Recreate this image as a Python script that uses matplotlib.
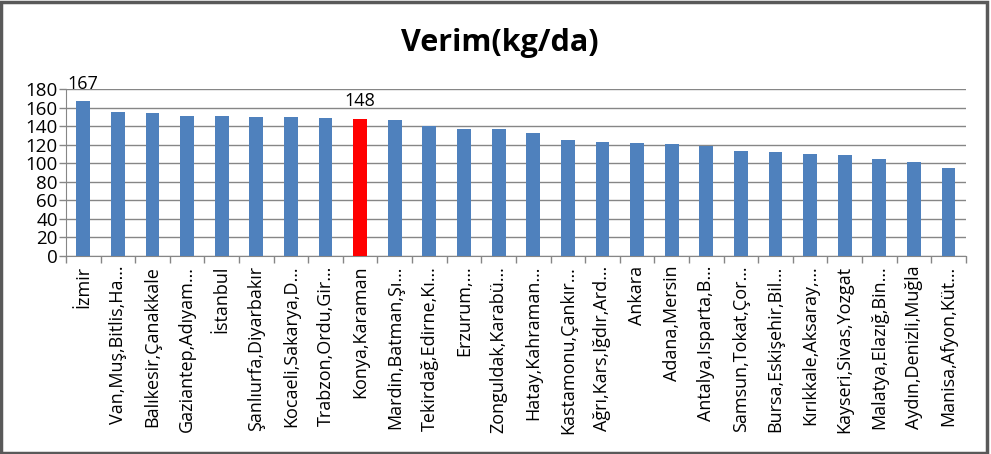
import matplotlib
matplotlib.use("Agg")
import matplotlib.pyplot as plt
from matplotlib.patches import Rectangle
import numpy as np

plt.rcParams['font.family'] = ['Open Sans', 'DejaVu Sans']

regions = ["İzmir", "Van,Muş,Bitlis,Ha…", "Balıkesir,Çanakkale", "Gaziantep,Adıyam…",
           "İstanbul", "Şanlıurfa,Diyarbakır", "Kocaeli,Sakarya,D…", "Trabzon,Ordu,Gir…",
           "Konya,Karaman", "Mardin,Batman,Şı…", "Tekirdağ,Edirne,Kı…", "Erzurum,…",
           "Zonguldak,Karabü…", "Hatay,Kahraman…", "Kastamonu,Çankır…", "Ağrı,Kars,Iğdır,Ard…",
           "Ankara", "Adana,Mersin", "Antalya,Isparta,B…", "Samsun,Tokat,Çor…",
           "Bursa,Eskişehir,Bil…", "Kırıkkale,Aksaray,…", "Kayseri,Sivas,Yozgat",
           "Malatya,Elazığ,Bin…", "Aydın,Denizli,Muğla", "Manisa,Afyon,Küt…"]
verim = [167, 155, 154, 151, 151, 150, 150, 149, 148, 146, 140, 137, 137, 133,
         125, 123, 122, 121, 119, 113, 112, 110, 109, 104, 101, 95]
highlight = "Konya,Karaman"
labelled = ["İzmir", "Konya,Karaman"]

fig = plt.figure(figsize=(9.91, 4.54), dpi=100)
ax = fig.add_axes([0.0666, 0.4361, 0.908, 0.368])

x = np.arange(len(regions))
colors = ["#FF0000" if r == highlight else "#4F81BD" for r in regions]
ax.bar(x, verim, width=0.4, color=colors, zorder=3)

for xi, r, v in zip(x, regions, verim):
    if r in labelled:
        ax.annotate(str(v), (xi, v), xytext=(0, 6), textcoords="offset points",
                    ha="center", va="bottom", fontsize=13)

ax.set_xlim(-0.5, len(regions) - 0.5)
ax.set_ylim(0, 180)
ax.set_yticks(range(0, 181, 20))
ax.yaxis.grid(True, color="#868686", linewidth=1, zorder=0)
ax.set_xticks(x)
ax.set_xticklabels(regions, rotation=90, fontsize=13)
ax.set_xticks(np.arange(-0.5, len(regions), 1), minor=True)
ax.tick_params(axis="x", which="major", length=0, pad=7)
ax.tick_params(axis="x", which="minor", length=5, color="#868686", width=1)
ax.tick_params(axis="y", length=5, color="#868686", width=1, labelsize=13.5, pad=1)
for s in ["top", "right"]:
    ax.spines[s].set_visible(False)
for s in ["left", "bottom"]:
    ax.spines[s].set_color("#868686")

fig.text(0.504, 0.905, "Verim(kg/da)", ha="center", va="center",
         fontsize=22, fontweight="bold")

fig.patches.append(Rectangle((0.001, 0.002), 0.995, 0.994, transform=fig.transFigure,
                             fill=False, edgecolor="#595959", linewidth=2.5))

fig.savefig("out.png", dpi=100)
